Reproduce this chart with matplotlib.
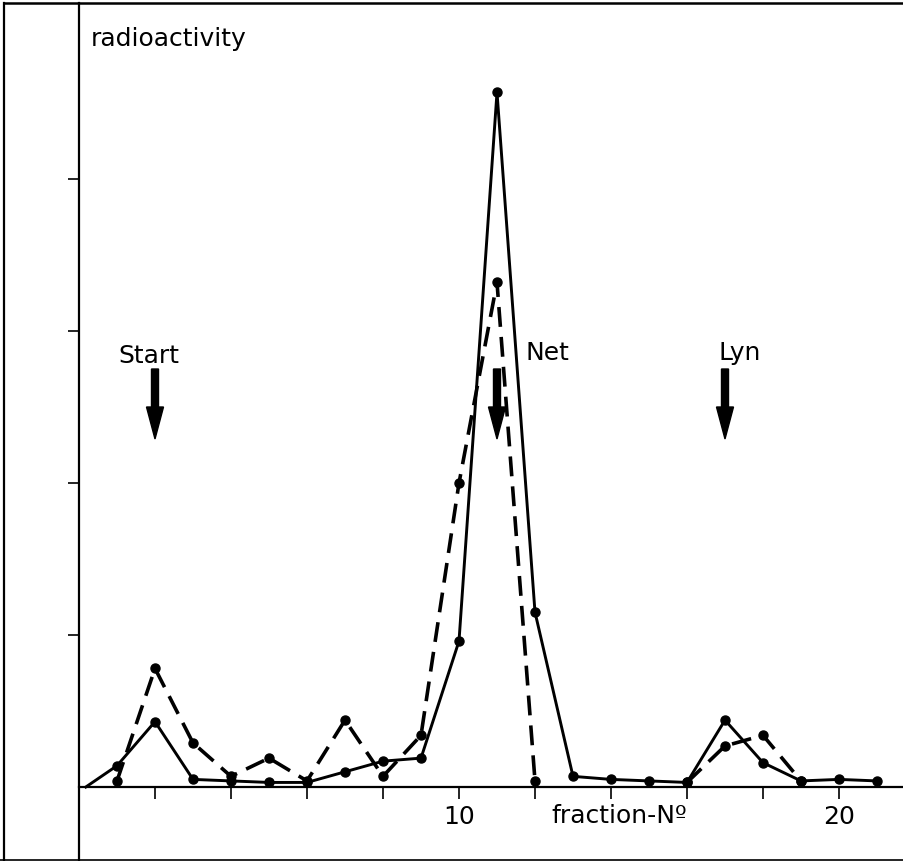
import numpy as np
import matplotlib.pyplot as plt
from matplotlib.lines import Line2D

# fractions and radioactivity (arbitrary units, 1 unit = one y tick)
frac = np.arange(1, 22)
solid = [0.14, 0.43, 0.05, 0.04, 0.03, 0.03, 0.10, 0.17, 0.19, 0.96, 4.57,
         1.15, 0.07, 0.05, 0.04, 0.03, 0.44, 0.16, 0.04, 0.05, 0.04]
dashed = [0.04, 0.78, 0.29, 0.07, 0.19, 0.04, 0.44, 0.07, 0.34, 2.00, 3.32,
          0.04, np.nan, np.nan, np.nan, 0.03, 0.27, 0.34, 0.04, np.nan, np.nan]
solid_start = 0.18

markers = ['Start', 'Net', 'Lyn']
marker_x = [2, 11, 17]
xticks = [2, 4, 6, 8, 10, 12, 14, 16, 18, 20]
xticklabels = ['', '', '', '', '10', '', '', '', '', '20']
yticks = [1, 2, 3, 4]

W, H = 904, 862
fig = plt.figure(figsize=(W / 100, H / 100), dpi=100)
x0, y0 = 79, 788          # pixel of data origin
px_x, px_y = 38.0, 152.0  # pixels per unit
ax = fig.add_axes([x0 / W, 0, 1 - x0 / W, 1 - 4 / H])
ax.set_xlim(0, (W - x0) / px_x)
ax.set_ylim(-(H - y0) / px_y, (y0 - 4) / px_y)

for s in ['top', 'right']:
    ax.spines[s].set_visible(False)
ax.spines['bottom'].set_position(('data', 0))
ax.spines['bottom'].set_linewidth(1.6)
ax.spines['left'].set_linewidth(1.6)

ax.set_xticks(xticks)
ax.set_xticklabels(xticklabels)
ax.set_yticks(yticks)
ax.set_yticklabels([])
ax.tick_params(axis='x', direction='out', length=8.5, width=1.2, pad=4, labelsize=18)
ax.tick_params(axis='y', direction='out', length=8, width=1.2)

xs = np.concatenate([[solid_start], frac])
ys = np.concatenate([[0], solid])
ax.plot(xs, ys, color='black', lw=2.1, marker='o', ms=6.5, markevery=list(range(1, len(xs))),
        solid_joinstyle='miter', zorder=3)
ax.plot(frac, dashed, color='black', lw=2.6, ls=(0, (5.5, 2.8)), marker='o', ms=6.5, zorder=3)

# arrows
shaft = 7 / px_x
head_w = 17 / px_x
head_l = 32 / px_y
for name, xm in zip(markers, marker_x):
    ytop = (y0 - 370) / px_y
    ybot = (y0 - 440) / px_y
    ax.arrow(xm, ytop, 0, ybot - ytop, width=shaft, head_width=head_w, head_length=head_l,
             length_includes_head=True, color='black', zorder=5)

ax.text(1.84, 2.84, 'Start', fontsize=18, ha='center', va='center')
ax.text(11.74, 2.86, 'Net', fontsize=18, ha='left', va='center')
ax.text(17.38, 2.86, 'Lyn', fontsize=18, ha='center', va='center')
ax.text(0.32, 4.93, 'radioactivity', fontsize=18, ha='left', va='center')
ax.text(14.22, -0.185, 'fraction-Nº', fontsize=18, ha='center', va='center')

# outer frame
fig.add_artist(Line2D([4 / W, 4 / W], [0, 1 - 4 / H], color='black', lw=1.6))
fig.add_artist(Line2D([4 / W, 1], [1 - 4 / H, 1 - 4 / H], color='black', lw=1.8))
fig.add_artist(Line2D([0, 1], [1 / H, 1 / H], color='black', lw=1.2))

fig.savefig('out.png', dpi=100)
